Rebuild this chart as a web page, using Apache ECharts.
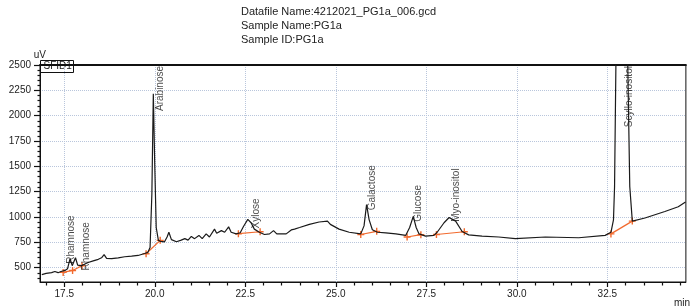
<!DOCTYPE html>
<html>
<head>
<meta charset="utf-8">
<title>PG1a chromatogram</title>
<script src="https://cdn.jsdelivr.net/npm/echarts@6/dist/echarts.min.js"></script>
<style>
  html, body { margin: 0; padding: 0; background: #fff; }
  #chart { width: 693px; height: 308px; }
</style>
</head>
<body>
<div id="chart"></div>
<script>
// retention time (min) and detector signal (uV)
const times = [16.88, 17.00, 17.15, 17.24, 17.33, 17.41, 17.52, 17.59, 17.66, 17.72, 17.81, 17.87, 17.98, 18.07, 18.16, 18.30, 18.44, 18.53, 18.60, 18.67, 18.81, 18.99, 19.17, 19.36, 19.54, 19.72, 19.81, 19.87, 19.92, 19.96, 20.00, 20.04, 20.10, 20.16, 20.27, 20.34, 20.39, 20.46, 20.60, 20.73, 20.83, 20.92, 21.01, 21.10, 21.22, 21.31, 21.42, 21.51, 21.65, 21.71, 21.84, 21.93, 22.04, 22.11, 22.25, 22.36, 22.45, 22.57, 22.66, 22.75, 22.89, 23.03, 23.17, 23.28, 23.37, 23.63, 23.77, 23.86, 24.00, 24.27, 24.54, 24.77, 24.85, 25.09, 25.37, 25.69, 25.78, 25.85, 25.92, 26.01, 26.15, 26.38, 26.66, 26.93, 27.04, 27.14, 27.22, 27.30, 27.48, 27.71, 27.80, 27.99, 28.13, 28.31, 28.49, 28.67, 29.04, 29.50, 29.96, 30.79, 31.71, 32.44, 32.60, 32.67, 32.70, 32.74, 32.90, 33.06, 33.12, 33.19, 33.54, 34.09, 34.46, 34.66];
const signal = [431, 443, 450, 462, 450, 462, 472, 488, 588, 519, 597, 525, 519, 535, 550, 566, 582, 597, 629, 591, 588, 597, 607, 613, 620, 639, 651, 698, 1226, 2216, 1509, 896, 769, 759, 755, 802, 849, 776, 755, 771, 786, 771, 808, 786, 818, 786, 833, 802, 880, 840, 865, 849, 903, 849, 833, 844, 906, 976, 943, 880, 849, 827, 833, 865, 833, 833, 872, 880, 896, 927, 950, 959, 927, 880, 849, 833, 912, 1122, 974, 874, 849, 842, 833, 818, 896, 1006, 896, 833, 811, 818, 849, 943, 995, 959, 856, 823, 811, 802, 786, 802, 795, 818, 849, 971, 1300, 2600, 20000, 2600, 1300, 959, 990, 1054, 1101, 1148];

// integration baselines (orange), one list of [time, signal] points per peak
const baselines = [
  [[17.47, 453], [17.73, 472], [17.99, 519]],
  [[19.76, 637], [20.15, 769]],
  [[22.31, 835], [22.91, 854]],
  [[25.69, 827], [26.13, 858]],
  [[26.97, 802], [27.35, 825]],
  [[27.78, 827], [28.55, 854]],
  [[32.60, 833], [33.19, 959]]
];

// peak names and where their vertical labels start
const peakNames = ['Rhamnose', 'Rhamnose', 'Arabinose', 'Xylose', 'Galactose', 'Glucose', 'Myo-inositol', 'Scyllo-inositol'];
const labelTimes = [17.68, 18.10, 20.14, 22.80, 26.02, 27.29, 28.32, 33.11];
const labelValues = [538, 472, 2046, 887, 1066, 953, 953, 1886];

// axis ticks
const xMajor = [17.5, 20.0, 22.5, 25.0, 27.5, 30.0, 32.5];
const xMinor = [17.0, 18.0, 18.5, 19.0, 19.5, 20.5, 21.0, 21.5, 22.0, 23.0, 23.5, 24.0, 24.5, 25.5, 26.0, 26.5, 27.0, 28.0, 28.5, 29.0, 29.5, 30.5, 31.0, 31.5, 32.0, 33.0, 33.5, 34.0, 34.5];
const yMajor = [500, 750, 1000, 1250, 1500, 1750, 2000, 2250, 2500];
const yMinor = [400, 450, 550, 600, 650, 700, 800, 850, 900, 950, 1050, 1100, 1150, 1200, 1300, 1350, 1400, 1450, 1550, 1600, 1650, 1700, 1800, 1850, 1900, 1950, 2050, 2100, 2150, 2200, 2300, 2350, 2400, 2450];

const xMin = 16.83, xMax = 34.67, yMin = 358, yMax = 2500;
const font = 'Liberation Sans';
const orange = '#f26a2e';
const plusSymbol = 'path://M4,0H6V10H4ZM0,4H10V6H0Z';

let chart = echarts.init(document.getElementById('chart'));

let trace = times.map((t, i) => [t, signal[i]]);

let baselineSeries = baselines.map(pts => ({
  type: 'line',
  data: pts,
  symbol: plusSymbol,
  symbolSize: 7,
  showSymbol: true,
  lineStyle: { color: orange, width: 1.2 },
  itemStyle: { color: orange },
  z: 3,
  silent: true
}));

// short minor ticks drawn just outside the axis lines
function minorTicks(values, onX) {
  return {
    type: 'custom',
    data: values.map(v => onX ? [v, yMin] : [xMin, v]),
    clip: false,
    silent: true,
    z: 6,
    renderItem: (params, api) => {
      const p = api.coord([api.value(0), api.value(1)]);
      const x = Math.round(p[0]) + 0.5, y = Math.round(p[1]) + 0.5;
      return {
        type: 'line',
        shape: onX ? { x1: x, y1: y, x2: x, y2: y + 3 } : { x1: x, y1: y, x2: x - 3, y2: y },
        style: { stroke: '#111', lineWidth: 1.2 }
      };
    }
  };
}

chart.setOption({
  animation: false,
  textStyle: { fontFamily: font },
  title: {
    text: 'Datafile Name:4212021_PG1a_006.gcd\nSample Name:PG1a\nSample ID:PG1a',
    left: 236,
    top: 0,
    textStyle: { fontSize: 11, fontWeight: 'normal', color: '#222', lineHeight: 14, fontFamily: font }
  },
  grid: { left: 40, right: 6, top: 65, bottom: 16, show: true, borderColor: '#111', borderWidth: 1 },
  xAxis: [
    {
      type: 'value', min: xMin, max: xMax,
      name: 'min', nameLocation: 'end', nameGap: -12,
      nameTextStyle: { fontSize: 10, color: '#222', verticalAlign: 'top', padding: [16, 0, 0, 0] },
      axisLine: { lineStyle: { color: '#111', width: 1 } },
      axisTick: { show: true, customValues: xMajor, length: 5, lineStyle: { color: '#111', width: 1.2 } },
      axisLabel: { customValues: xMajor, formatter: v => v.toFixed(1), fontSize: 10, color: '#222', margin: 7 },
      splitLine: { show: true, lineStyle: { color: '#b9c6dc', type: 'dotted', width: 1 } }
    },
    {
      type: 'value', min: xMin, max: xMax, position: 'top',
      axisLine: { show: true, lineStyle: { color: '#111', width: 2 } },
      axisTick: { show: false },
      axisLabel: { show: false },
      splitLine: { show: false }
    }
  ],
  yAxis: {
    type: 'value', min: yMin, max: yMax,
    name: 'uV', nameLocation: 'end', nameGap: 2,
    nameTextStyle: { fontSize: 10, color: '#222', align: 'right', padding: [0, -6, 0, 0] },
    axisLine: { show: true, lineStyle: { color: '#111', width: 1 } },
    axisTick: { show: true, customValues: yMajor, length: 6, lineStyle: { color: '#111', width: 1.2 } },
    axisLabel: { customValues: yMajor, formatter: v => String(v), fontSize: 10, color: '#222', margin: 9 },
    splitLine: { show: true, lineStyle: { color: '#b9c6dc', type: 'dotted', width: 1 } }
  },
  graphic: [
    {
      type: 'group', left: 40, top: 60,
      children: [
        { type: 'rect', shape: { x: 0, y: 0, width: 33, height: 12 }, style: { fill: '#fff', stroke: '#111', lineWidth: 1 } },
        { type: 'text', x: 3, y: 1, style: { text: 'SFID1', font: '10px "Liberation Sans"', fill: '#222' } }
      ]
    }
  ],
  series: [
    {
      type: 'line',
      data: trace,
      symbol: 'none',
      clip: true,
      lineStyle: { color: '#1a1a1a', width: 1.2 },
      z: 4
    },
    {
      // keeps the top frame axis on the same data range
      type: 'line',
      xAxisIndex: 1,
      data: trace,
      symbol: 'none',
      silent: true,
      lineStyle: { opacity: 0 }
    },
    ...baselineSeries,
    minorTicks(xMinor, true),
    minorTicks(yMinor, false),
    {
      type: 'scatter',
      data: labelTimes.map((t, i) => ({ name: peakNames[i], value: [t, labelValues[i]] })),
      symbolSize: 2,
      itemStyle: { color: 'rgba(0,0,0,0)' },
      label: {
        show: true, formatter: '{b}', position: 'inside', rotate: 90,
        align: 'left', verticalAlign: 'middle',
        fontSize: 10, color: '#1a1a1a', fontFamily: font
      },
      labelLayout: { hideOverlap: false },
      z: 5
    }
  ]
});
</script>
</body>
</html>
